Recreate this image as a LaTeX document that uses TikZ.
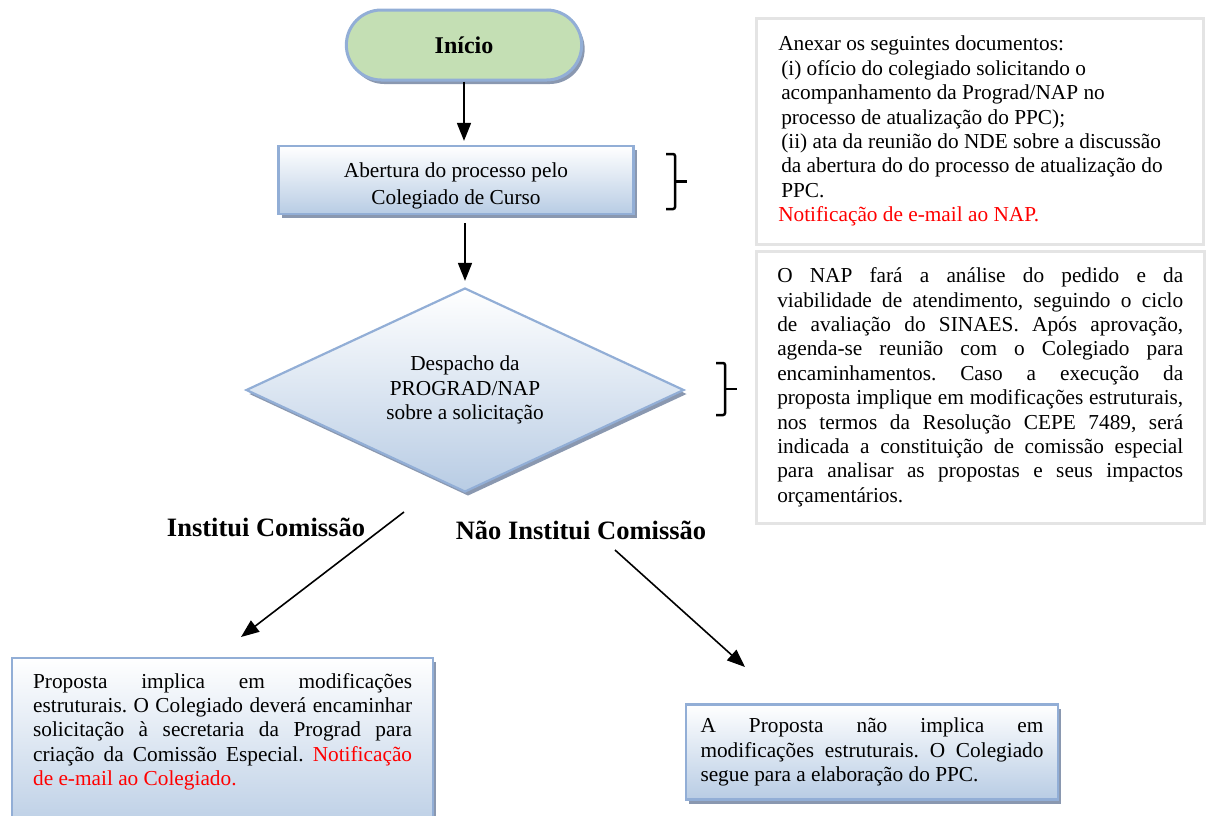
\documentclass[tikz,border=0pt]{standalone}
\usepackage{fontspec}
\setmainfont{Liberation Serif}
\frenchspacing
\usetikzlibrary{arrows.meta,shapes.geometric,shapes.misc,shadows}
\definecolor{bordaazul}{RGB}{146,174,214}
\definecolor{fundoverde}{RGB}{196,223,180}
\definecolor{fundoazul}{RGB}{184,204,228}
\definecolor{sombra}{RGB}{138,152,176}
\definecolor{bordacinza}{RGB}{228,228,228}
\def\chave(#1,#2)(#3){\draw[line width=2.5pt, rounded corners=2pt] ({#1-9},#2) -- (#1,#2) -- (#1,#3) -- ({#1-9},#3); \draw[line width=2.5pt] (#1,{(#2+#3)/2}) -- ({#1+12},{(#2+#3)/2});}
\tikzset{
	sombreado/.style={drop shadow={shadow xshift=3pt, shadow yshift=-4pt, fill=sombra, opacity=1}},
	inicio/.style={draw=bordaazul, line width=3pt, fill=fundoverde, sombreado, rounded rectangle},
	caixa/.style={draw=bordaazul, line width=2.2pt, top color=white, bottom color=fundoazul, sombreado, inner sep=0pt},
	nota/.style={draw=bordacinza, line width=2.5pt, fill=white, inner sep=0pt, anchor=north west},
	seta/.style={line width=1.6pt, -{Triangle[width=14pt,length=18pt]}},
	texto/.style={font=\fontsize{21.3}{24.4}\selectfont},
	rotulo/.style={font=\fontsize{26.5}{30}\selectfont\bfseries, anchor=base}
}

\begin{document}
\begin{tikzpicture}[x=1pt, y=-1pt]
			%%%%% START %%%%%
			
			\useasboundingbox (0,0) rectangle (1211,815);
			\clip (0,0) rectangle (1211,815);
			
			\node[inicio, minimum width=242pt, minimum height=70pt, font=\fontsize{24}{28}\selectfont\bfseries] (inicio) at (464,45) {Início};
			\node[caixa, texto, minimum width=355pt, minimum height=68pt] (abertura) at (456,180) {\raisebox{-11pt}[0pt][0pt]{\parbox{330pt}{\centering Abertura do processo pelo\\[2pt]Colegiado de Curso}}};
			\node[caixa, texto, shape=diamond, aspect=2.15, minimum width=438pt, minimum height=204pt, align=center] (despacho) at (465,390) {Despacho da\\PROGRAD/NAP\\sobre a solicitação};
			
			\draw[seta] (inicio.south) -- ([yshift=4pt]inicio.south |- abertura.north);
			\draw[seta] ([yshift=-8pt]abertura.south -| despacho.north) -- ([yshift=6pt]despacho.north);
			
			% notas da direita
			\node[nota, texto, minimum width=447pt, minimum height=226pt] (documentos) at (755,17) {\parbox{403pt}{Anexar os seguintes documentos:\\
				\hspace*{3pt}(i) ofício do colegiado solicitando o\\
				\hspace*{3pt}acompanhamento da Prograd/NAP no\\
				\hspace*{3pt}processo de atualização do PPC);\\
				\hspace*{3pt}(ii) ata da reunião do NDE sobre a discussão\\
				\hspace*{3pt}da abertura do do processo de atualização do\\
				\hspace*{3pt}PPC.\\
				\textcolor{red}{Notificação de e-mail ao NAP.}}};
			\node[nota, texto, minimum width=448pt, minimum height=272pt] (analise) at (755,250) {\parbox{406pt}{O NAP fará a análise do pedido e da\linebreak
				viabilidade de atendimento, seguindo o ciclo\linebreak
				de avaliação do SINAES. Após aprovação,\linebreak
				agenda-se reunião com o Colegiado para\linebreak
				encaminhamentos. Caso a execução da\linebreak
				proposta implique em modificações estruturais,\linebreak
				nos termos da Resolução CEPE 7489, será\linebreak
				indicada a constituição de comissão especial\linebreak
				para analisar as propostas e seus impactos\linebreak
				orçamentários.}};
			
			\chave(675,154)(209);
			\chave(725,363)(415);
			
			% ramos da decisao
			\node[rotulo] (institui) at (266,536) {Institui Comissão};
			\node[rotulo] (naoinstitui) at (581,539) {Não Institui Comissão};
			
			\coordinate (ramoA) at (404,512);
			\coordinate (pontaA) at (241,637);
			\coordinate (ramoB) at (615,550);
			\coordinate (pontaB) at (745,667);
			\draw[seta] (ramoA) -- (pontaA);
			\draw[seta] (ramoB) -- (pontaB);
			
			\node[caixa, texto, anchor=north west, inner xsep=21pt, inner ysep=15pt] (comissao) at (11,657) {\parbox[t][150pt][t]{379pt}{Proposta implica em modificações\linebreak
				estruturais. O Colegiado deverá encaminhar\linebreak
				solicitação à secretaria da Prograd para\linebreak
				criação da Comissão Especial. \textcolor{red}{Notificação\linebreak
				de e-mail ao Colegiado.}}};
			\node[caixa, texto, minimum width=372pt, minimum height=95pt] (semcomissao) at (872,752) {\parbox{343pt}{A Proposta não implica em\linebreak
				modificações estruturais. O Colegiado\linebreak
				segue para a elaboração do PPC.}};
			
			%%%%% END %%%%%
\end{tikzpicture}
\end{document}
